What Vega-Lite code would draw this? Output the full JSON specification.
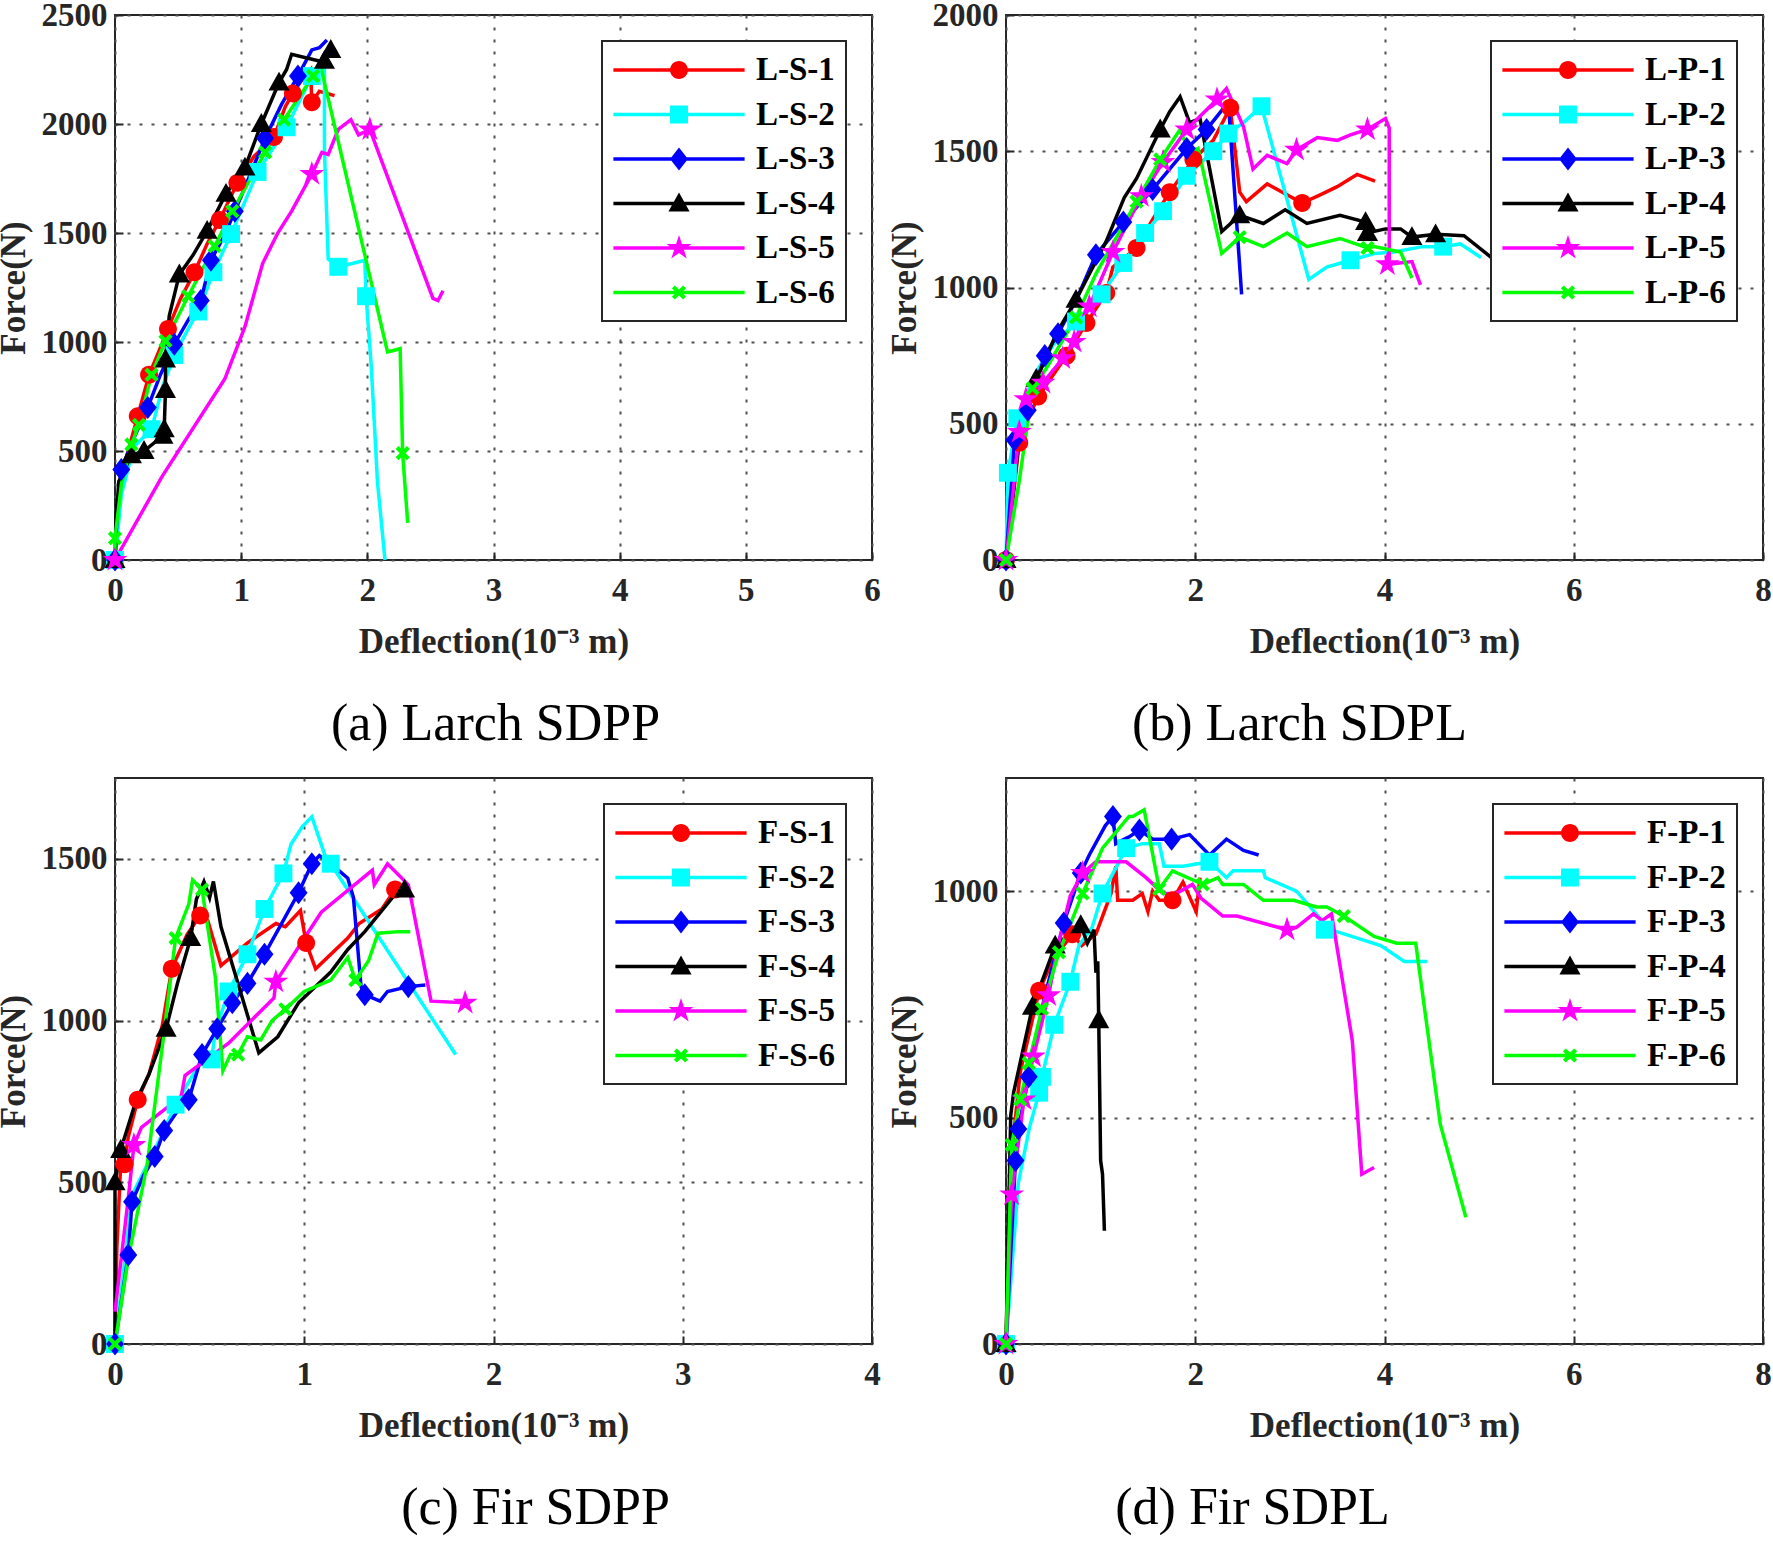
{
"$schema": "https://vega.github.io/schema/vega-lite/v6.json",
"background": "white",
"autosize": {"type": "none"},
"padding": {"left": 115, "top": 15, "right": 1658, "bottom": 1530},
"config": {
  "font": "Liberation Serif",
  "view": {"stroke": "#262626", "strokeWidth": 2},
  "axis": {"labelFont": "Liberation Serif", "labelFontWeight": "bold", "labelFontSize": 33, "labelColor": "#262626", "titleFont": "Liberation Serif", "titleFontWeight": "bold", "titleFontSize": 35, "titleColor": "#262626", "grid": true, "gridColor": "#505050", "gridDash": [3, 9], "gridWidth": 2, "domain": false, "ticks": true, "tickSize": -8, "tickWidth": 2, "tickColor": "#262626", "labelFlush": false, "labelOverlap": false, "labelBound": false, "format": "d"},
  "axisX": {"labelPadding": 22, "titlePadding": 17},
  "axisY": {"labelPadding": 16, "titlePadding": 10},
  "legend": {"strokeColor": "#262626", "strokeWidth": 2, "fillColor": "#ffffff", "padding": 11, "rowPadding": 9.5, "labelFont": "Liberation Serif", "labelFontWeight": "bold", "labelFontSize": 33, "labelColor": "#000000", "symbolSize": 1024, "symbolOffset": 48, "labelOffset": 59, "orient": "top-right", "offset": 26},
  "title": {"font": "Liberation Serif", "fontSize": 52, "fontWeight": "normal", "color": "#000000", "orient": "bottom", "anchor": "middle", "offset": 40},
  "point": {"opacity": 1}
},
"datasets": {
"a": [
{"s":"L-S-1","x":0,"y":0,"m":1},{"s":"L-S-1","x":0.03,"y":250},{"s":"L-S-1","x":0.08,"y":450},{"s":"L-S-1","x":0.18,"y":660,"m":1},{"s":"L-S-1","x":0.27,"y":850,"m":1},{"s":"L-S-1","x":0.35,"y":960},{"s":"L-S-1","x":0.42,"y":1060,"m":1},{"s":"L-S-1","x":0.52,"y":1200},{"s":"L-S-1","x":0.63,"y":1320,"m":1},{"s":"L-S-1","x":0.73,"y":1450},{"s":"L-S-1","x":0.83,"y":1560,"m":1},{"s":"L-S-1","x":0.97,"y":1730,"m":1},{"s":"L-S-1","x":1.1,"y":1850},{"s":"L-S-1","x":1.26,"y":1940,"m":1},{"s":"L-S-1","x":1.35,"y":2080},{"s":"L-S-1","x":1.41,"y":2140,"m":1},{"s":"L-S-1","x":1.5,"y":2220},{"s":"L-S-1","x":1.55,"y":2250},{"s":"L-S-1","x":1.56,"y":2100,"m":1},{"s":"L-S-1","x":1.62,"y":2150},{"s":"L-S-1","x":1.74,"y":2130},
{"s":"L-S-2","x":0,"y":0,"m":1},{"s":"L-S-2","x":0.05,"y":300},{"s":"L-S-2","x":0.15,"y":520},{"s":"L-S-2","x":0.29,"y":600,"m":1},{"s":"L-S-2","x":0.38,"y":800},{"s":"L-S-2","x":0.47,"y":940,"m":1},{"s":"L-S-2","x":0.58,"y":1060},{"s":"L-S-2","x":0.66,"y":1140,"m":1},{"s":"L-S-2","x":0.78,"y":1320,"m":1},{"s":"L-S-2","x":0.92,"y":1495,"m":1},{"s":"L-S-2","x":1.13,"y":1780,"m":1},{"s":"L-S-2","x":1.36,"y":1985,"m":1},{"s":"L-S-2","x":1.56,"y":2220,"m":1},{"s":"L-S-2","x":1.66,"y":2300},{"s":"L-S-2","x":1.66,"y":1880},{"s":"L-S-2","x":1.69,"y":1380},{"s":"L-S-2","x":1.77,"y":1345,"m":1},{"s":"L-S-2","x":1.88,"y":1360},{"s":"L-S-2","x":1.98,"y":1375},{"s":"L-S-2","x":1.99,"y":1210,"m":1},{"s":"L-S-2","x":2.03,"y":900},{"s":"L-S-2","x":2.06,"y":580},{"s":"L-S-2","x":2.08,"y":360},{"s":"L-S-2","x":2.14,"y":0},
{"s":"L-S-3","x":0,"y":0,"m":1},{"s":"L-S-3","x":0.02,"y":250},{"s":"L-S-3","x":0.05,"y":415,"m":1},{"s":"L-S-3","x":0.15,"y":560},{"s":"L-S-3","x":0.26,"y":700,"m":1},{"s":"L-S-3","x":0.36,"y":850},{"s":"L-S-3","x":0.47,"y":990,"m":1},{"s":"L-S-3","x":0.58,"y":1100},{"s":"L-S-3","x":0.68,"y":1190,"m":1},{"s":"L-S-3","x":0.76,"y":1375,"m":1},{"s":"L-S-3","x":0.86,"y":1480},{"s":"L-S-3","x":0.95,"y":1600,"m":1},{"s":"L-S-3","x":1.08,"y":1780},{"s":"L-S-3","x":1.19,"y":1935,"m":1},{"s":"L-S-3","x":1.32,"y":2090},{"s":"L-S-3","x":1.45,"y":2220,"m":1},{"s":"L-S-3","x":1.56,"y":2340},{"s":"L-S-3","x":1.62,"y":2350},{"s":"L-S-3","x":1.68,"y":2385},
{"s":"L-S-4","x":0,"y":0,"m":1},{"s":"L-S-4","x":0.01,"y":190},{"s":"L-S-4","x":0.03,"y":360},{"s":"L-S-4","x":0.13,"y":480,"m":1},{"s":"L-S-4","x":0.23,"y":500,"m":1},{"s":"L-S-4","x":0.38,"y":570,"m":1},{"s":"L-S-4","x":0.39,"y":600,"m":1},{"s":"L-S-4","x":0.4,"y":780,"m":1},{"s":"L-S-4","x":0.4,"y":920,"m":1},{"s":"L-S-4","x":0.43,"y":1120},{"s":"L-S-4","x":0.51,"y":1310,"m":1},{"s":"L-S-4","x":0.62,"y":1400},{"s":"L-S-4","x":0.73,"y":1510,"m":1},{"s":"L-S-4","x":0.88,"y":1680,"m":1},{"s":"L-S-4","x":1.03,"y":1800,"m":1},{"s":"L-S-4","x":1.16,"y":2000,"m":1},{"s":"L-S-4","x":1.3,"y":2190,"m":1},{"s":"L-S-4","x":1.36,"y":2250},{"s":"L-S-4","x":1.4,"y":2320},{"s":"L-S-4","x":1.61,"y":2290},{"s":"L-S-4","x":1.66,"y":2290,"m":1},{"s":"L-S-4","x":1.71,"y":2340,"m":1},
{"s":"L-S-5","x":0,"y":0,"m":1},{"s":"L-S-5","x":0.37,"y":380},{"s":"L-S-5","x":0.87,"y":830},{"s":"L-S-5","x":1.03,"y":1070},{"s":"L-S-5","x":1.17,"y":1360},{"s":"L-S-5","x":1.29,"y":1500},{"s":"L-S-5","x":1.4,"y":1600},{"s":"L-S-5","x":1.56,"y":1770,"m":1},{"s":"L-S-5","x":1.64,"y":1870},{"s":"L-S-5","x":1.69,"y":1860},{"s":"L-S-5","x":1.77,"y":1975},{"s":"L-S-5","x":1.87,"y":2020},{"s":"L-S-5","x":1.93,"y":1950},{"s":"L-S-5","x":2.02,"y":1975,"m":1},{"s":"L-S-5","x":2.52,"y":1200},{"s":"L-S-5","x":2.56,"y":1190},{"s":"L-S-5","x":2.6,"y":1235},
{"s":"L-S-6","x":0,"y":0},{"s":"L-S-6","x":0,"y":100,"m":1},{"s":"L-S-6","x":0.05,"y":345},{"s":"L-S-6","x":0.13,"y":530,"m":1},{"s":"L-S-6","x":0.19,"y":620,"m":1},{"s":"L-S-6","x":0.29,"y":850,"m":1},{"s":"L-S-6","x":0.4,"y":1005,"m":1},{"s":"L-S-6","x":0.58,"y":1210,"m":1},{"s":"L-S-6","x":0.79,"y":1440,"m":1},{"s":"L-S-6","x":0.93,"y":1600,"m":1},{"s":"L-S-6","x":1.19,"y":1870,"m":1},{"s":"L-S-6","x":1.34,"y":2020,"m":1},{"s":"L-S-6","x":1.57,"y":2220,"m":1},{"s":"L-S-6","x":1.63,"y":2265},{"s":"L-S-6","x":2.16,"y":955},{"s":"L-S-6","x":2.2,"y":960},{"s":"L-S-6","x":2.26,"y":970},{"s":"L-S-6","x":2.28,"y":490,"m":1},{"s":"L-S-6","x":2.32,"y":170}
],
"b": [
{"s":"L-P-1","x":0,"y":0,"m":1},{"s":"L-P-1","x":0.14,"y":430,"m":1},{"s":"L-P-1","x":0.25,"y":530},{"s":"L-P-1","x":0.34,"y":600,"m":1},{"s":"L-P-1","x":0.5,"y":680},{"s":"L-P-1","x":0.64,"y":750,"m":1},{"s":"L-P-1","x":0.85,"y":870,"m":1},{"s":"L-P-1","x":1.06,"y":980,"m":1},{"s":"L-P-1","x":1.13,"y":1075},{"s":"L-P-1","x":1.38,"y":1145,"m":1},{"s":"L-P-1","x":1.55,"y":1250},{"s":"L-P-1","x":1.73,"y":1350,"m":1},{"s":"L-P-1","x":1.98,"y":1470,"m":1},{"s":"L-P-1","x":2.19,"y":1540},{"s":"L-P-1","x":2.37,"y":1660,"m":1},{"s":"L-P-1","x":2.47,"y":1350},{"s":"L-P-1","x":2.54,"y":1315},{"s":"L-P-1","x":2.76,"y":1380},{"s":"L-P-1","x":3.13,"y":1310,"m":1},{"s":"L-P-1","x":3.32,"y":1340},{"s":"L-P-1","x":3.5,"y":1370},{"s":"L-P-1","x":3.71,"y":1415},{"s":"L-P-1","x":3.9,"y":1390},
{"s":"L-P-2","x":0,"y":0},{"s":"L-P-2","x":0.02,"y":320,"m":1},{"s":"L-P-2","x":0.12,"y":520,"m":1},{"s":"L-P-2","x":0.3,"y":680},{"s":"L-P-2","x":0.5,"y":790},{"s":"L-P-2","x":0.74,"y":875,"m":1},{"s":"L-P-2","x":1.01,"y":975,"m":1},{"s":"L-P-2","x":1.24,"y":1090,"m":1},{"s":"L-P-2","x":1.47,"y":1200,"m":1},{"s":"L-P-2","x":1.66,"y":1280,"m":1},{"s":"L-P-2","x":1.91,"y":1410,"m":1},{"s":"L-P-2","x":2.19,"y":1500,"m":1},{"s":"L-P-2","x":2.35,"y":1565,"m":1},{"s":"L-P-2","x":2.51,"y":1605},{"s":"L-P-2","x":2.7,"y":1665,"m":1},{"s":"L-P-2","x":3.2,"y":1030},{"s":"L-P-2","x":3.39,"y":1075},{"s":"L-P-2","x":3.64,"y":1100,"m":1},{"s":"L-P-2","x":3.9,"y":1125},{"s":"L-P-2","x":4.1,"y":1130},{"s":"L-P-2","x":4.4,"y":1150},{"s":"L-P-2","x":4.62,"y":1150,"m":1},{"s":"L-P-2","x":4.8,"y":1160},{"s":"L-P-2","x":5.02,"y":1110},
{"s":"L-P-3","x":0,"y":0,"m":1},{"s":"L-P-3","x":0.09,"y":440,"m":1},{"s":"L-P-3","x":0.23,"y":550,"m":1},{"s":"L-P-3","x":0.41,"y":750,"m":1},{"s":"L-P-3","x":0.55,"y":830,"m":1},{"s":"L-P-3","x":0.75,"y":960},{"s":"L-P-3","x":0.95,"y":1120,"m":1},{"s":"L-P-3","x":1.24,"y":1240,"m":1},{"s":"L-P-3","x":1.55,"y":1360,"m":1},{"s":"L-P-3","x":1.91,"y":1510,"m":1},{"s":"L-P-3","x":2.12,"y":1580,"m":1},{"s":"L-P-3","x":2.35,"y":1680},{"s":"L-P-3","x":2.49,"y":975},
{"s":"L-P-4","x":0,"y":0,"m":1},{"s":"L-P-4","x":0.15,"y":480},{"s":"L-P-4","x":0.32,"y":665,"m":1},{"s":"L-P-4","x":0.41,"y":730},{"s":"L-P-4","x":0.53,"y":830},{"s":"L-P-4","x":0.74,"y":955,"m":1},{"s":"L-P-4","x":1.06,"y":1170},{"s":"L-P-4","x":1.25,"y":1330},{"s":"L-P-4","x":1.38,"y":1400},{"s":"L-P-4","x":1.63,"y":1580,"m":1},{"s":"L-P-4","x":1.73,"y":1645},{"s":"L-P-4","x":1.84,"y":1700},{"s":"L-P-4","x":1.94,"y":1605},{"s":"L-P-4","x":2.05,"y":1620},{"s":"L-P-4","x":2.28,"y":1205},{"s":"L-P-4","x":2.47,"y":1265,"m":1},{"s":"L-P-4","x":2.72,"y":1235},{"s":"L-P-4","x":2.95,"y":1285},{"s":"L-P-4","x":3.18,"y":1235},{"s":"L-P-4","x":3.53,"y":1265},{"s":"L-P-4","x":3.8,"y":1240,"m":1},{"s":"L-P-4","x":3.82,"y":1200,"m":1},{"s":"L-P-4","x":4.01,"y":1215},{"s":"L-P-4","x":4.17,"y":1215},{"s":"L-P-4","x":4.29,"y":1185,"m":1},{"s":"L-P-4","x":4.54,"y":1195,"m":1},{"s":"L-P-4","x":4.84,"y":1190},{"s":"L-P-4","x":5.13,"y":1110},
{"s":"L-P-5","x":0,"y":0,"m":1},{"s":"L-P-5","x":0.14,"y":470,"m":1},{"s":"L-P-5","x":0.21,"y":590,"m":1},{"s":"L-P-5","x":0.39,"y":650,"m":1},{"s":"L-P-5","x":0.6,"y":740,"m":1},{"s":"L-P-5","x":0.72,"y":800,"m":1},{"s":"L-P-5","x":0.88,"y":930,"m":1},{"s":"L-P-5","x":1.13,"y":1130,"m":1},{"s":"L-P-5","x":1.43,"y":1335,"m":1},{"s":"L-P-5","x":1.66,"y":1460,"m":1},{"s":"L-P-5","x":1.91,"y":1580,"m":1},{"s":"L-P-5","x":2.23,"y":1690,"m":1},{"s":"L-P-5","x":2.33,"y":1730},{"s":"L-P-5","x":2.51,"y":1590},{"s":"L-P-5","x":2.61,"y":1435},{"s":"L-P-5","x":2.76,"y":1485},{"s":"L-P-5","x":2.97,"y":1455},{"s":"L-P-5","x":3.07,"y":1505,"m":1},{"s":"L-P-5","x":3.29,"y":1550},{"s":"L-P-5","x":3.5,"y":1540},{"s":"L-P-5","x":3.64,"y":1560},{"s":"L-P-5","x":3.82,"y":1580,"m":1},{"s":"L-P-5","x":4.01,"y":1620},{"s":"L-P-5","x":4.05,"y":1585},{"s":"L-P-5","x":4.05,"y":1105},{"s":"L-P-5","x":4.03,"y":1085,"m":1},{"s":"L-P-5","x":4.29,"y":1095},{"s":"L-P-5","x":4.38,"y":1010},
{"s":"L-P-6","x":0,"y":0,"m":1},{"s":"L-P-6","x":0.14,"y":290},{"s":"L-P-6","x":0.28,"y":630,"m":1},{"s":"L-P-6","x":0.42,"y":700},{"s":"L-P-6","x":0.74,"y":890,"m":1},{"s":"L-P-6","x":0.95,"y":1050},{"s":"L-P-6","x":1.38,"y":1315,"m":1},{"s":"L-P-6","x":1.63,"y":1470,"m":1},{"s":"L-P-6","x":1.84,"y":1580},{"s":"L-P-6","x":1.94,"y":1490},{"s":"L-P-6","x":2.03,"y":1510},{"s":"L-P-6","x":2.28,"y":1125},{"s":"L-P-6","x":2.47,"y":1185,"m":1},{"s":"L-P-6","x":2.72,"y":1150},{"s":"L-P-6","x":2.97,"y":1200},{"s":"L-P-6","x":3.18,"y":1150},{"s":"L-P-6","x":3.53,"y":1180},{"s":"L-P-6","x":3.82,"y":1145,"m":1},{"s":"L-P-6","x":3.89,"y":1150},{"s":"L-P-6","x":4.17,"y":1130},{"s":"L-P-6","x":4.29,"y":1035}
],
"c": [
{"s":"F-S-1","x":0,"y":0},{"s":"F-S-1","x":0.01,"y":300},{"s":"F-S-1","x":0.03,"y":556},{"s":"F-S-1","x":0.05,"y":556,"m":1},{"s":"F-S-1","x":0.07,"y":640},{"s":"F-S-1","x":0.12,"y":755,"m":1},{"s":"F-S-1","x":0.18,"y":835},{"s":"F-S-1","x":0.25,"y":985},{"s":"F-S-1","x":0.3,"y":1160,"m":1},{"s":"F-S-1","x":0.38,"y":1265},{"s":"F-S-1","x":0.45,"y":1325,"m":1},{"s":"F-S-1","x":0.49,"y":1310},{"s":"F-S-1","x":0.56,"y":1170},{"s":"F-S-1","x":0.7,"y":1240},{"s":"F-S-1","x":0.85,"y":1300},{"s":"F-S-1","x":0.9,"y":1290},{"s":"F-S-1","x":0.98,"y":1340},{"s":"F-S-1","x":1.01,"y":1240,"m":1},{"s":"F-S-1","x":1.06,"y":1160},{"s":"F-S-1","x":1.23,"y":1255},{"s":"F-S-1","x":1.29,"y":1300},{"s":"F-S-1","x":1.41,"y":1345},{"s":"F-S-1","x":1.48,"y":1405,"m":1},{"s":"F-S-1","x":1.55,"y":1405},
{"s":"F-S-2","x":0,"y":0,"m":1},{"s":"F-S-2","x":0.05,"y":250},{"s":"F-S-2","x":0.09,"y":460},{"s":"F-S-2","x":0.23,"y":625},{"s":"F-S-2","x":0.32,"y":740,"m":1},{"s":"F-S-2","x":0.44,"y":860},{"s":"F-S-2","x":0.51,"y":880,"m":1},{"s":"F-S-2","x":0.53,"y":965},{"s":"F-S-2","x":0.6,"y":1090,"m":1},{"s":"F-S-2","x":0.7,"y":1205,"m":1},{"s":"F-S-2","x":0.79,"y":1345,"m":1},{"s":"F-S-2","x":0.89,"y":1455,"m":1},{"s":"F-S-2","x":0.93,"y":1545},{"s":"F-S-2","x":0.99,"y":1600},{"s":"F-S-2","x":1.04,"y":1630},{"s":"F-S-2","x":1.11,"y":1510},{"s":"F-S-2","x":1.14,"y":1485,"m":1},{"s":"F-S-2","x":1.8,"y":895},
{"s":"F-S-3","x":0,"y":0,"m":1},{"s":"F-S-3","x":0.07,"y":275,"m":1},{"s":"F-S-3","x":0.09,"y":440,"m":1},{"s":"F-S-3","x":0.15,"y":520},{"s":"F-S-3","x":0.21,"y":580,"m":1},{"s":"F-S-3","x":0.26,"y":660,"m":1},{"s":"F-S-3","x":0.33,"y":720},{"s":"F-S-3","x":0.39,"y":755,"m":1},{"s":"F-S-3","x":0.46,"y":895,"m":1},{"s":"F-S-3","x":0.54,"y":975,"m":1},{"s":"F-S-3","x":0.62,"y":1055,"m":1},{"s":"F-S-3","x":0.7,"y":1115,"m":1},{"s":"F-S-3","x":0.79,"y":1205,"m":1},{"s":"F-S-3","x":0.88,"y":1300},{"s":"F-S-3","x":0.97,"y":1395,"m":1},{"s":"F-S-3","x":1.04,"y":1485,"m":1},{"s":"F-S-3","x":1.08,"y":1510},{"s":"F-S-3","x":1.14,"y":1485},{"s":"F-S-3","x":1.23,"y":1440},{"s":"F-S-3","x":1.26,"y":1380},{"s":"F-S-3","x":1.3,"y":1105},{"s":"F-S-3","x":1.32,"y":1080,"m":1},{"s":"F-S-3","x":1.4,"y":1060},{"s":"F-S-3","x":1.44,"y":1090},{"s":"F-S-3","x":1.55,"y":1105,"m":1},{"s":"F-S-3","x":1.64,"y":1110},
{"s":"F-S-4","x":0,"y":0},{"s":"F-S-4","x":0,"y":500,"m":1},{"s":"F-S-4","x":0.03,"y":600,"m":1},{"s":"F-S-4","x":0.11,"y":750},{"s":"F-S-4","x":0.18,"y":835},{"s":"F-S-4","x":0.27,"y":975,"m":1},{"s":"F-S-4","x":0.33,"y":1115},{"s":"F-S-4","x":0.4,"y":1255,"m":1},{"s":"F-S-4","x":0.43,"y":1375},{"s":"F-S-4","x":0.47,"y":1430},{"s":"F-S-4","x":0.5,"y":1380},{"s":"F-S-4","x":0.52,"y":1430},{"s":"F-S-4","x":0.56,"y":1290},{"s":"F-S-4","x":0.76,"y":900},{"s":"F-S-4","x":0.86,"y":950},{"s":"F-S-4","x":0.97,"y":1055},{"s":"F-S-4","x":1.14,"y":1150},{"s":"F-S-4","x":1.23,"y":1220},{"s":"F-S-4","x":1.32,"y":1275},{"s":"F-S-4","x":1.5,"y":1405},{"s":"F-S-4","x":1.53,"y":1405,"m":1},
{"s":"F-S-5","x":0,"y":100},{"s":"F-S-5","x":0.07,"y":450},{"s":"F-S-5","x":0.1,"y":615,"m":1},{"s":"F-S-5","x":0.14,"y":670},{"s":"F-S-5","x":0.35,"y":765},{"s":"F-S-5","x":0.37,"y":830},{"s":"F-S-5","x":0.6,"y":930},{"s":"F-S-5","x":0.84,"y":1070},{"s":"F-S-5","x":0.85,"y":1120,"m":1},{"s":"F-S-5","x":1.09,"y":1335},{"s":"F-S-5","x":1.36,"y":1465},{"s":"F-S-5","x":1.37,"y":1420},{"s":"F-S-5","x":1.44,"y":1485},{"s":"F-S-5","x":1.55,"y":1420},{"s":"F-S-5","x":1.67,"y":1060},{"s":"F-S-5","x":1.85,"y":1055,"m":1},
{"s":"F-S-6","x":0,"y":0,"m":1},{"s":"F-S-6","x":0.07,"y":265},{"s":"F-S-6","x":0.17,"y":555},{"s":"F-S-6","x":0.26,"y":965},{"s":"F-S-6","x":0.32,"y":1255,"m":1},{"s":"F-S-6","x":0.39,"y":1360},{"s":"F-S-6","x":0.41,"y":1435},{"s":"F-S-6","x":0.46,"y":1405,"m":1},{"s":"F-S-6","x":0.53,"y":1135},{"s":"F-S-6","x":0.57,"y":845},{"s":"F-S-6","x":0.61,"y":895},{"s":"F-S-6","x":0.65,"y":895,"m":1},{"s":"F-S-6","x":0.7,"y":950},{"s":"F-S-6","x":0.77,"y":940},{"s":"F-S-6","x":0.83,"y":1000},{"s":"F-S-6","x":0.9,"y":1035,"m":1},{"s":"F-S-6","x":1.0,"y":1090},{"s":"F-S-6","x":1.14,"y":1125},{"s":"F-S-6","x":1.23,"y":1195},{"s":"F-S-6","x":1.27,"y":1125,"m":1},{"s":"F-S-6","x":1.34,"y":1185},{"s":"F-S-6","x":1.39,"y":1270},{"s":"F-S-6","x":1.5,"y":1275},{"s":"F-S-6","x":1.56,"y":1275}
],
"d": [
{"s":"F-P-1","x":0,"y":0,"m":1},{"s":"F-P-1","x":0.05,"y":400},{"s":"F-P-1","x":0.15,"y":600},{"s":"F-P-1","x":0.35,"y":780,"m":1},{"s":"F-P-1","x":0.5,"y":850},{"s":"F-P-1","x":0.7,"y":905,"m":1},{"s":"F-P-1","x":0.8,"y":880},{"s":"F-P-1","x":0.95,"y":905},{"s":"F-P-1","x":1.11,"y":995},{"s":"F-P-1","x":1.16,"y":1055},{"s":"F-P-1","x":1.18,"y":980},{"s":"F-P-1","x":1.34,"y":980},{"s":"F-P-1","x":1.44,"y":995},{"s":"F-P-1","x":1.5,"y":955},{"s":"F-P-1","x":1.55,"y":1000},{"s":"F-P-1","x":1.62,"y":980},{"s":"F-P-1","x":1.76,"y":980,"m":1},{"s":"F-P-1","x":1.87,"y":1020},{"s":"F-P-1","x":2.01,"y":955},{"s":"F-P-1","x":2.05,"y":1030},
{"s":"F-P-2","x":0,"y":0,"m":1},{"s":"F-P-2","x":0.13,"y":355},{"s":"F-P-2","x":0.25,"y":480},{"s":"F-P-2","x":0.35,"y":555,"m":1},{"s":"F-P-2","x":0.38,"y":590,"m":1},{"s":"F-P-2","x":0.51,"y":705,"m":1},{"s":"F-P-2","x":0.68,"y":800,"m":1},{"s":"F-P-2","x":0.77,"y":880},{"s":"F-P-2","x":0.91,"y":920},{"s":"F-P-2","x":1.02,"y":995,"m":1},{"s":"F-P-2","x":1.27,"y":1095,"m":1},{"s":"F-P-2","x":1.44,"y":1105},{"s":"F-P-2","x":1.62,"y":1105},{"s":"F-P-2","x":1.67,"y":1055},{"s":"F-P-2","x":1.87,"y":1055},{"s":"F-P-2","x":2.15,"y":1065,"m":1},{"s":"F-P-2","x":2.33,"y":1030},{"s":"F-P-2","x":2.4,"y":1045},{"s":"F-P-2","x":2.72,"y":1045},{"s":"F-P-2","x":2.74,"y":1030},{"s":"F-P-2","x":3.07,"y":1000},{"s":"F-P-2","x":3.32,"y":940},{"s":"F-P-2","x":3.37,"y":915,"m":1},{"s":"F-P-2","x":3.43,"y":915},{"s":"F-P-2","x":3.96,"y":880},{"s":"F-P-2","x":4.21,"y":845},{"s":"F-P-2","x":4.45,"y":845},
{"s":"F-P-3","x":0,"y":0,"m":1},{"s":"F-P-3","x":0.1,"y":405,"m":1},{"s":"F-P-3","x":0.13,"y":475,"m":1},{"s":"F-P-3","x":0.24,"y":590,"m":1},{"s":"F-P-3","x":0.4,"y":760},{"s":"F-P-3","x":0.61,"y":930,"m":1},{"s":"F-P-3","x":0.79,"y":1040,"m":1},{"s":"F-P-3","x":0.88,"y":1080},{"s":"F-P-3","x":1.05,"y":1145},{"s":"F-P-3","x":1.13,"y":1165,"m":1},{"s":"F-P-3","x":1.16,"y":1105},{"s":"F-P-3","x":1.3,"y":1120},{"s":"F-P-3","x":1.41,"y":1135,"m":1},{"s":"F-P-3","x":1.55,"y":1115},{"s":"F-P-3","x":1.75,"y":1115,"m":1},{"s":"F-P-3","x":1.94,"y":1125},{"s":"F-P-3","x":2.15,"y":1080},{"s":"F-P-3","x":2.33,"y":1115},{"s":"F-P-3","x":2.51,"y":1090},{"s":"F-P-3","x":2.67,"y":1080},
{"s":"F-P-4","x":0,"y":0,"m":1},{"s":"F-P-4","x":0.05,"y":505},{"s":"F-P-4","x":0.08,"y":555},{"s":"F-P-4","x":0.28,"y":745,"m":1},{"s":"F-P-4","x":0.45,"y":840},{"s":"F-P-4","x":0.52,"y":880,"m":1},{"s":"F-P-4","x":0.79,"y":925,"m":1},{"s":"F-P-4","x":0.86,"y":885},{"s":"F-P-4","x":0.93,"y":915},{"s":"F-P-4","x":0.95,"y":820},{"s":"F-P-4","x":0.97,"y":845},{"s":"F-P-4","x":0.98,"y":715,"m":1},{"s":"F-P-4","x":1.0,"y":405},{"s":"F-P-4","x":1.02,"y":375},{"s":"F-P-4","x":1.04,"y":250},
{"s":"F-P-5","x":0,"y":0,"m":1},{"s":"F-P-5","x":0.06,"y":330,"m":1},{"s":"F-P-5","x":0.19,"y":540,"m":1},{"s":"F-P-5","x":0.29,"y":635,"m":1},{"s":"F-P-5","x":0.45,"y":770,"m":1},{"s":"F-P-5","x":0.55,"y":880},{"s":"F-P-5","x":0.68,"y":990},{"s":"F-P-5","x":0.81,"y":1040,"m":1},{"s":"F-P-5","x":0.95,"y":1065},{"s":"F-P-5","x":1.27,"y":1065},{"s":"F-P-5","x":1.48,"y":1030},{"s":"F-P-5","x":1.66,"y":995},{"s":"F-P-5","x":1.8,"y":995},{"s":"F-P-5","x":1.97,"y":1015},{"s":"F-P-5","x":2.06,"y":985},{"s":"F-P-5","x":2.29,"y":945},{"s":"F-P-5","x":2.44,"y":945},{"s":"F-P-5","x":2.97,"y":915,"m":1},{"s":"F-P-5","x":3.07,"y":920},{"s":"F-P-5","x":3.25,"y":950},{"s":"F-P-5","x":3.34,"y":935},{"s":"F-P-5","x":3.44,"y":950},{"s":"F-P-5","x":3.66,"y":670},{"s":"F-P-5","x":3.76,"y":375},{"s":"F-P-5","x":3.89,"y":390},
{"s":"F-P-6","x":0,"y":0,"m":1},{"s":"F-P-6","x":0.06,"y":440,"m":1},{"s":"F-P-6","x":0.15,"y":540,"m":1},{"s":"F-P-6","x":0.24,"y":620,"m":1},{"s":"F-P-6","x":0.38,"y":740,"m":1},{"s":"F-P-6","x":0.56,"y":865,"m":1},{"s":"F-P-6","x":0.81,"y":995,"m":1},{"s":"F-P-6","x":1.02,"y":1095},{"s":"F-P-6","x":1.16,"y":1130},{"s":"F-P-6","x":1.3,"y":1165},{"s":"F-P-6","x":1.34,"y":1165},{"s":"F-P-6","x":1.46,"y":1180},{"s":"F-P-6","x":1.62,"y":1005,"m":1},{"s":"F-P-6","x":1.76,"y":1045},{"s":"F-P-6","x":2.08,"y":1015,"m":1},{"s":"F-P-6","x":2.24,"y":1030},{"s":"F-P-6","x":2.29,"y":1015},{"s":"F-P-6","x":2.51,"y":1015},{"s":"F-P-6","x":2.72,"y":980},{"s":"F-P-6","x":3.04,"y":980},{"s":"F-P-6","x":3.28,"y":965},{"s":"F-P-6","x":3.39,"y":965},{"s":"F-P-6","x":3.57,"y":945,"m":1},{"s":"F-P-6","x":3.89,"y":900},{"s":"F-P-6","x":4.13,"y":885},{"s":"F-P-6","x":4.33,"y":885},{"s":"F-P-6","x":4.45,"y":700},{"s":"F-P-6","x":4.59,"y":485},{"s":"F-P-6","x":4.86,"y":280}
]
},
"columns": 2,
"bounds": "flush",
"spacing": {"row": 218, "column": 134},
"resolve": {"scale": {"color": "independent", "shape": "independent", "x": "independent", "y": "independent"}},
"concat": [
{
 "width": 757, "height": 545,
 "data": {"name": "a"},
 "title": {"text": "(a) Larch SDPP", "dx": 2},
 "layer": [
  {"mark": {"type": "line", "strokeWidth": 3.5},
   "encoding": {
    "x": {"field": "x", "type": "quantitative", "scale": {"domain": [0, 6], "nice": false}, "axis": {"values": [0,1,2,3,4,5,6], "title": "Deflection(10⁻³ m)"}},
    "y": {"field": "y", "type": "quantitative", "scale": {"domain": [0, 2500], "nice": false}, "axis": {"values": [0,500,1000,1500,2000,2500], "title": "Force(N)"}},
    "color": {"field": "s", "type": "nominal", "scale": {"domain": ["L-S-1","L-S-2","L-S-3","L-S-4","L-S-5","L-S-6"], "range": ["#ff0000","#00ffff","#0000ff","#000000","#ff00ff","#00ff00"]},
      "legend": {"title": null, "encode": {"symbols": {"update": {
        "shape": {"signal": "['M-4.1,-0.11L4.1,-0.11L4.1,0.11L-4.1,0.11ZM-0.56,0A0.56,0.56,0,1,1,0.56,0A0.56,0.56,0,1,1,-0.56,0Z','M-4.1,-0.11L4.1,-0.11L4.1,0.11L-4.1,0.11ZM-0.56,-0.56L0.56,-0.56L0.56,0.56L-0.56,0.56Z','M-4.1,-0.11L4.1,-0.11L4.1,0.11L-4.1,0.11ZM0,-0.72L0.56,0L0,0.72L-0.56,0Z','M-4.1,-0.11L4.1,-0.11L4.1,0.11L-4.1,0.11ZM0,-0.68L0.66,0.5L-0.66,0.5Z','M-4.1,-0.11L4.1,-0.11L4.1,0.11L-4.1,0.11ZM0,-0.82L0.182,-0.251L0.78,-0.253L0.295,0.096L0.482,0.663L0,0.31L-0.482,0.663L-0.295,0.096L-0.78,-0.253L-0.182,-0.251Z','M-4.1,-0.11L4.1,-0.11L4.1,0.11L-4.1,0.11ZM0.262,-0.445L0.445,-0.262L0.184,0L0.445,0.262L0.262,0.445L0,0.184L-0.262,0.445L-0.445,0.262L-0.184,0L-0.445,-0.262L-0.262,-0.445L0,-0.184Z'][toNumber(slice(datum.value,-1))-1]"},
        "fill": {"signal": "['#ff0000','#00ffff','#0000ff','#000000','#ff00ff','#00ff00'][toNumber(slice(datum.value,-1))-1]"},
        "strokeWidth": {"value": 3.5},
        "strokeOpacity": {"value": 0},
        "fillOpacity": {"value": 1},
        "opacity": {"value": 1}
      }}}}},
    "order": {"value": null}
   }},
  {"transform": [{"filter": "datum.m == 1"}],
   "mark": {"type": "point", "filled": true, "size": 1024, "strokeWidth": 0, "opacity": 1},
   "encoding": {
    "x": {"field": "x", "type": "quantitative"},
    "y": {"field": "y", "type": "quantitative"},
    "shape": {"field": "s", "type": "nominal", "scale": {"domain": ["L-S-6","L-S-5","L-S-4","L-S-3","L-S-2","L-S-1"], "range": ["M0.262,-0.445L0.445,-0.262L0.184,0L0.445,0.262L0.262,0.445L0,0.184L-0.262,0.445L-0.445,0.262L-0.184,0L-0.445,-0.262L-0.262,-0.445L0,-0.184Z","M0,-0.82L0.182,-0.251L0.78,-0.253L0.295,0.096L0.482,0.663L0,0.31L-0.482,0.663L-0.295,0.096L-0.78,-0.253L-0.182,-0.251Z","M0,-0.68L0.66,0.5L-0.66,0.5Z","M0,-0.72L0.56,0L0,0.72L-0.56,0Z","M-0.56,-0.56L0.56,-0.56L0.56,0.56L-0.56,0.56Z","M-0.56,0A0.56,0.56,0,1,1,0.56,0A0.56,0.56,0,1,1,-0.56,0Z"]}, "legend": null},
    "color": {"field": "s", "type": "nominal", "legend": null}
   }}
 ]
},
{
 "width": 757, "height": 545,
 "data": {"name": "b"},
 "title": {"text": "(b) Larch SDPL", "dx": -85},
 "layer": [
  {"mark": {"type": "line", "strokeWidth": 3.5},
   "encoding": {
    "x": {"field": "x", "type": "quantitative", "scale": {"domain": [0, 8], "nice": false}, "axis": {"values": [0,2,4,6,8], "title": "Deflection(10⁻³ m)"}},
    "y": {"field": "y", "type": "quantitative", "scale": {"domain": [0, 2000], "nice": false}, "axis": {"values": [0,500,1000,1500,2000], "title": "Force(N)"}},
    "color": {"field": "s", "type": "nominal", "scale": {"domain": ["L-P-1","L-P-2","L-P-3","L-P-4","L-P-5","L-P-6"], "range": ["#ff0000","#00ffff","#0000ff","#000000","#ff00ff","#00ff00"]},
      "legend": {"title": null, "encode": {"symbols": {"update": {
        "shape": {"signal": "['M-4.1,-0.11L4.1,-0.11L4.1,0.11L-4.1,0.11ZM-0.56,0A0.56,0.56,0,1,1,0.56,0A0.56,0.56,0,1,1,-0.56,0Z','M-4.1,-0.11L4.1,-0.11L4.1,0.11L-4.1,0.11ZM-0.56,-0.56L0.56,-0.56L0.56,0.56L-0.56,0.56Z','M-4.1,-0.11L4.1,-0.11L4.1,0.11L-4.1,0.11ZM0,-0.72L0.56,0L0,0.72L-0.56,0Z','M-4.1,-0.11L4.1,-0.11L4.1,0.11L-4.1,0.11ZM0,-0.68L0.66,0.5L-0.66,0.5Z','M-4.1,-0.11L4.1,-0.11L4.1,0.11L-4.1,0.11ZM0,-0.82L0.182,-0.251L0.78,-0.253L0.295,0.096L0.482,0.663L0,0.31L-0.482,0.663L-0.295,0.096L-0.78,-0.253L-0.182,-0.251Z','M-4.1,-0.11L4.1,-0.11L4.1,0.11L-4.1,0.11ZM0.262,-0.445L0.445,-0.262L0.184,0L0.445,0.262L0.262,0.445L0,0.184L-0.262,0.445L-0.445,0.262L-0.184,0L-0.445,-0.262L-0.262,-0.445L0,-0.184Z'][toNumber(slice(datum.value,-1))-1]"},
        "fill": {"signal": "['#ff0000','#00ffff','#0000ff','#000000','#ff00ff','#00ff00'][toNumber(slice(datum.value,-1))-1]"},
        "strokeWidth": {"value": 3.5},
        "strokeOpacity": {"value": 0},
        "fillOpacity": {"value": 1},
        "opacity": {"value": 1}
      }}}}},
    "order": {"value": null}
   }},
  {"transform": [{"filter": "datum.m == 1"}],
   "mark": {"type": "point", "filled": true, "size": 1024, "strokeWidth": 0, "opacity": 1},
   "encoding": {
    "x": {"field": "x", "type": "quantitative"},
    "y": {"field": "y", "type": "quantitative"},
    "shape": {"field": "s", "type": "nominal", "scale": {"domain": ["L-P-6","L-P-5","L-P-4","L-P-3","L-P-2","L-P-1"], "range": ["M0.262,-0.445L0.445,-0.262L0.184,0L0.445,0.262L0.262,0.445L0,0.184L-0.262,0.445L-0.445,0.262L-0.184,0L-0.445,-0.262L-0.262,-0.445L0,-0.184Z","M0,-0.82L0.182,-0.251L0.78,-0.253L0.295,0.096L0.482,0.663L0,0.31L-0.482,0.663L-0.295,0.096L-0.78,-0.253L-0.182,-0.251Z","M0,-0.68L0.66,0.5L-0.66,0.5Z","M0,-0.72L0.56,0L0,0.72L-0.56,0Z","M-0.56,-0.56L0.56,-0.56L0.56,0.56L-0.56,0.56Z","M-0.56,0A0.56,0.56,0,1,1,0.56,0A0.56,0.56,0,1,1,-0.56,0Z"]}, "legend": null},
    "color": {"field": "s", "type": "nominal", "legend": null}
   }}
 ]
},
{
 "width": 757, "height": 566,
 "data": {"name": "c"},
 "title": {"text": "(c) Fir SDPP", "dx": 42},
 "layer": [
  {"mark": {"type": "line", "strokeWidth": 3.5},
   "encoding": {
    "x": {"field": "x", "type": "quantitative", "scale": {"domain": [0, 4], "nice": false}, "axis": {"values": [0,1,2,3,4], "title": "Deflection(10⁻³ m)"}},
    "y": {"field": "y", "type": "quantitative", "scale": {"domain": [0, 1750], "nice": false}, "axis": {"values": [0,500,1000,1500], "title": "Force(N)"}},
    "color": {"field": "s", "type": "nominal", "scale": {"domain": ["F-S-1","F-S-2","F-S-3","F-S-4","F-S-5","F-S-6"], "range": ["#ff0000","#00ffff","#0000ff","#000000","#ff00ff","#00ff00"]},
      "legend": {"title": null, "encode": {"symbols": {"update": {
        "shape": {"signal": "['M-4.1,-0.11L4.1,-0.11L4.1,0.11L-4.1,0.11ZM-0.56,0A0.56,0.56,0,1,1,0.56,0A0.56,0.56,0,1,1,-0.56,0Z','M-4.1,-0.11L4.1,-0.11L4.1,0.11L-4.1,0.11ZM-0.56,-0.56L0.56,-0.56L0.56,0.56L-0.56,0.56Z','M-4.1,-0.11L4.1,-0.11L4.1,0.11L-4.1,0.11ZM0,-0.72L0.56,0L0,0.72L-0.56,0Z','M-4.1,-0.11L4.1,-0.11L4.1,0.11L-4.1,0.11ZM0,-0.68L0.66,0.5L-0.66,0.5Z','M-4.1,-0.11L4.1,-0.11L4.1,0.11L-4.1,0.11ZM0,-0.82L0.182,-0.251L0.78,-0.253L0.295,0.096L0.482,0.663L0,0.31L-0.482,0.663L-0.295,0.096L-0.78,-0.253L-0.182,-0.251Z','M-4.1,-0.11L4.1,-0.11L4.1,0.11L-4.1,0.11ZM0.262,-0.445L0.445,-0.262L0.184,0L0.445,0.262L0.262,0.445L0,0.184L-0.262,0.445L-0.445,0.262L-0.184,0L-0.445,-0.262L-0.262,-0.445L0,-0.184Z'][toNumber(slice(datum.value,-1))-1]"},
        "fill": {"signal": "['#ff0000','#00ffff','#0000ff','#000000','#ff00ff','#00ff00'][toNumber(slice(datum.value,-1))-1]"},
        "strokeWidth": {"value": 3.5},
        "strokeOpacity": {"value": 0},
        "fillOpacity": {"value": 1},
        "opacity": {"value": 1}
      }}}}},
    "order": {"value": null}
   }},
  {"transform": [{"filter": "datum.m == 1"}],
   "mark": {"type": "point", "filled": true, "size": 1024, "strokeWidth": 0, "opacity": 1},
   "encoding": {
    "x": {"field": "x", "type": "quantitative"},
    "y": {"field": "y", "type": "quantitative"},
    "shape": {"field": "s", "type": "nominal", "scale": {"domain": ["F-S-6","F-S-5","F-S-4","F-S-3","F-S-2","F-S-1"], "range": ["M0.262,-0.445L0.445,-0.262L0.184,0L0.445,0.262L0.262,0.445L0,0.184L-0.262,0.445L-0.445,0.262L-0.184,0L-0.445,-0.262L-0.262,-0.445L0,-0.184Z","M0,-0.82L0.182,-0.251L0.78,-0.253L0.295,0.096L0.482,0.663L0,0.31L-0.482,0.663L-0.295,0.096L-0.78,-0.253L-0.182,-0.251Z","M0,-0.68L0.66,0.5L-0.66,0.5Z","M0,-0.72L0.56,0L0,0.72L-0.56,0Z","M-0.56,-0.56L0.56,-0.56L0.56,0.56L-0.56,0.56Z","M-0.56,0A0.56,0.56,0,1,1,0.56,0A0.56,0.56,0,1,1,-0.56,0Z"]}, "legend": null},
    "color": {"field": "s", "type": "nominal", "legend": null}
   }}
 ]
},
{
 "width": 757, "height": 566,
 "data": {"name": "d"},
 "title": {"text": "(d) Fir SDPL", "dx": -132},
 "layer": [
  {"mark": {"type": "line", "strokeWidth": 3.5},
   "encoding": {
    "x": {"field": "x", "type": "quantitative", "scale": {"domain": [0, 8], "nice": false}, "axis": {"values": [0,2,4,6,8], "title": "Deflection(10⁻³ m)"}},
    "y": {"field": "y", "type": "quantitative", "scale": {"domain": [0, 1250], "nice": false}, "axis": {"values": [0,500,1000], "title": "Force(N)"}},
    "color": {"field": "s", "type": "nominal", "scale": {"domain": ["F-P-1","F-P-2","F-P-3","F-P-4","F-P-5","F-P-6"], "range": ["#ff0000","#00ffff","#0000ff","#000000","#ff00ff","#00ff00"]},
      "legend": {"title": null, "encode": {"symbols": {"update": {
        "shape": {"signal": "['M-4.1,-0.11L4.1,-0.11L4.1,0.11L-4.1,0.11ZM-0.56,0A0.56,0.56,0,1,1,0.56,0A0.56,0.56,0,1,1,-0.56,0Z','M-4.1,-0.11L4.1,-0.11L4.1,0.11L-4.1,0.11ZM-0.56,-0.56L0.56,-0.56L0.56,0.56L-0.56,0.56Z','M-4.1,-0.11L4.1,-0.11L4.1,0.11L-4.1,0.11ZM0,-0.72L0.56,0L0,0.72L-0.56,0Z','M-4.1,-0.11L4.1,-0.11L4.1,0.11L-4.1,0.11ZM0,-0.68L0.66,0.5L-0.66,0.5Z','M-4.1,-0.11L4.1,-0.11L4.1,0.11L-4.1,0.11ZM0,-0.82L0.182,-0.251L0.78,-0.253L0.295,0.096L0.482,0.663L0,0.31L-0.482,0.663L-0.295,0.096L-0.78,-0.253L-0.182,-0.251Z','M-4.1,-0.11L4.1,-0.11L4.1,0.11L-4.1,0.11ZM0.262,-0.445L0.445,-0.262L0.184,0L0.445,0.262L0.262,0.445L0,0.184L-0.262,0.445L-0.445,0.262L-0.184,0L-0.445,-0.262L-0.262,-0.445L0,-0.184Z'][toNumber(slice(datum.value,-1))-1]"},
        "fill": {"signal": "['#ff0000','#00ffff','#0000ff','#000000','#ff00ff','#00ff00'][toNumber(slice(datum.value,-1))-1]"},
        "strokeWidth": {"value": 3.5},
        "strokeOpacity": {"value": 0},
        "fillOpacity": {"value": 1},
        "opacity": {"value": 1}
      }}}}},
    "order": {"value": null}
   }},
  {"transform": [{"filter": "datum.m == 1"}],
   "mark": {"type": "point", "filled": true, "size": 1024, "strokeWidth": 0, "opacity": 1},
   "encoding": {
    "x": {"field": "x", "type": "quantitative"},
    "y": {"field": "y", "type": "quantitative"},
    "shape": {"field": "s", "type": "nominal", "scale": {"domain": ["F-P-6","F-P-5","F-P-4","F-P-3","F-P-2","F-P-1"], "range": ["M0.262,-0.445L0.445,-0.262L0.184,0L0.445,0.262L0.262,0.445L0,0.184L-0.262,0.445L-0.445,0.262L-0.184,0L-0.445,-0.262L-0.262,-0.445L0,-0.184Z","M0,-0.82L0.182,-0.251L0.78,-0.253L0.295,0.096L0.482,0.663L0,0.31L-0.482,0.663L-0.295,0.096L-0.78,-0.253L-0.182,-0.251Z","M0,-0.68L0.66,0.5L-0.66,0.5Z","M0,-0.72L0.56,0L0,0.72L-0.56,0Z","M-0.56,-0.56L0.56,-0.56L0.56,0.56L-0.56,0.56Z","M-0.56,0A0.56,0.56,0,1,1,0.56,0A0.56,0.56,0,1,1,-0.56,0Z"]}, "legend": null},
    "color": {"field": "s", "type": "nominal", "legend": null}
   }}
 ]
}
]
}
